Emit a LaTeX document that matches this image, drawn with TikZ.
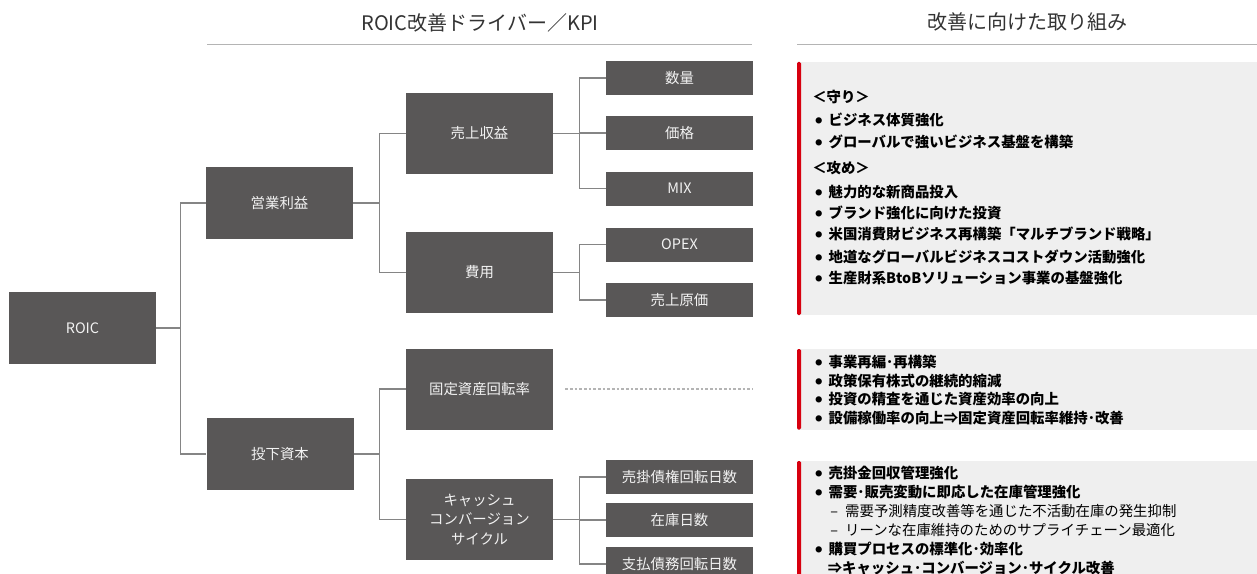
\documentclass[tikz,border=0pt]{standalone}
\usepackage{fontspec}
\newfontfamily\cjk{Noto Sans CJK JP}
\usetikzlibrary{calc}
\definecolor{boxgray}{HTML}{595757}
\definecolor{linegray}{HTML}{858585}
\definecolor{hdrline}{HTML}{B4B4B4}
\definecolor{panelbg}{HTML}{EFEFEF}
\definecolor{accent}{HTML}{D7000F}
\definecolor{boxtext}{HTML}{F2F2F2}
\definecolor{hdrtext}{HTML}{333333}
\newcommand\bul{\makebox[10pt][l]{\raisebox{1.6pt}{\fontsize{5.2}{5.2}\selectfont ●}}}
\begin{document}
\begin{tikzpicture}[x=0.75pt,y=-0.75pt,
  kpibox/.style={fill=boxgray, text=boxtext, font=\cjk\fontsize{10.8}{14.6}\selectfont,
    minimum width=110.25pt, inner sep=0pt, align=center},
  lvone/.style={kpibox, minimum height=54pt},
  lvtwo/.style={kpibox, minimum height=60.75pt},
  lvthree/.style={kpibox, minimum height=25.5pt},
  conn/.style={draw=linegray, line width=1pt},
  hdr/.style={font=\cjk\fontsize{15}{18}\selectfont, text=hdrtext, inner sep=0pt},
  hline/.style={draw=hdrline, line width=1.2pt},
  item/.style={anchor=west, inner sep=0pt, font=\cjk\bfseries\fontsize{10.8}{13}\selectfont,
    text height=9.5pt, text depth=1.3pt, text=black},
  subitem/.style={anchor=west, inner sep=0pt, font=\cjk\fontsize{10.8}{13}\selectfont,
    text height=9.5pt, text depth=1.3pt, text=black},
  panel/.style={fill=panelbg, draw=none},
  redbar/.style={fill=accent, draw=none, rounded corners=1pt},
  dotline/.style={draw=hdrline, line width=0.8pt, dash pattern=on 2pt off 1.5pt},
]
\useasboundingbox (0,0) rectangle (1257,574);
\clip (0,0) rectangle (1257,574);

% headers
\node[hdr] (h1) at (480,23) {ROIC改善ドライバー／KPI};
\node[hdr] (h2) at (1027,22) {改善に向けた取り組み};
\draw[hline] (207,44.5) -- (752,44.5);
\draw[hline] (797,44.5) -- (1257,44.5);

% KPI tree
\node[lvone] (roic) at (82.5,328) {ROIC};
\node[lvone] (op) at (279.5,203) {営業利益};
\node[lvone] (ic) at (280,454) {投下資本};
\node[lvtwo] (rev) at (479.5,133.2) {売上収益};
\node[lvtwo] (cost) at (479.5,272.2) {費用};
\node[lvtwo] (fa) at (479.5,389) {固定資産回転率};
\node[lvtwo] (ccc) at (479.5,519.3) {キャッシュ\\コンバージョン\\サイクル};
\node[lvthree] (qty) at (679.5,78) {数量};
\node[lvthree] (price) at (679.5,133) {価格};
\node[lvthree] (mix) at (679.5,188.7) {MIX};
\node[lvthree] (opex) at (679.5,244.7) {OPEX};
\node[lvthree] (cogs) at (679.5,300) {売上原価};
\node[lvthree] (ar) at (679.5,477) {売掛債権回転日数};
\node[lvthree] (inv) at (679.5,520) {在庫日数};
\node[lvthree] (ap) at (679.5,564) {支払債務回転日数};

% connectors
\coordinate (j1) at ($(roic.east)+(24,0)$);
\draw[conn] (roic.east) -- (j1) |- (op.west);
\draw[conn] (j1) |- (ic.west);
\coordinate (j2) at ($(op.east)+(26,0)$);
\draw[conn] (op.east) -- (j2) |- (rev.west);
\draw[conn] (j2) |- (cost.west);
\coordinate (j3) at ($(ic.east)+(26,0)$);
\draw[conn] (ic.east) -- (j3) |- (fa.west);
\draw[conn] (j3) |- (ccc.west);
\coordinate (j4) at ($(rev.east)+(26.5,0)$);
\draw[conn] (rev.east) -- (j4) |- (qty.west);
\draw[conn] (j4) |- (price.west);
\draw[conn] (j4) |- (mix.west);
\coordinate (j5) at ($(cost.east)+(26.5,0)$);
\draw[conn] (cost.east) -- (j5) |- (opex.west);
\draw[conn] (j5) |- (cogs.west);
\coordinate (j6) at ($(ccc.east)+(26.5,0)$);
\draw[conn] (ccc.east) -- (j6) |- (ar.west);
\draw[conn] (j6) |- (inv.west);
\draw[conn] (j6) |- (ap.west);
\coordinate (faend) at (753,389);
\draw[dotline] ($(fa.east)+(12,0)$) -- (faend);

% panels
\fill[panel] (797,62) rectangle (1257,315);
\fill[redbar] (797,62) rectangle (801,315);
\fill[panel] (797,349) rectangle (1257,429.5);
\fill[redbar] (797,349) rectangle (801,429.5);
\fill[panel] (797,461) rectangle (1257,580);
\fill[redbar] (797,461) rectangle (801,580);

% panel 1
\node[item] (p1a) at (812,97.3) {＜守り＞};
\node[item] (p1b) at (815,120) {\bul ビジネス体質強化};
\node[item] (p1c) at (815,141.7) {\bul グローバルで強いビジネス基盤を構築};
\node[item] (p1d) at (812,168) {＜攻め＞};
\node[item] (p1e) at (815,191.7) {\bul 魅力的な新商品投入};
\node[item] (p1f) at (815,213) {\bul ブランド強化に向けた投資};
\node[item] (p1g) at (815,234.5) {\bul 米国消費財ビジネス再構築「マルチブランド戦略」};
\node[item] (p1h) at (815,256.7) {\bul 地道なグローバルビジネスコストダウン活動強化};
\node[item] (p1i) at (815,278) {\bul 生産財系BtoBソリューション事業の基盤強化};

% panel 2
\node[item] (p2a) at (815,361.7) {\bul 事業再編･再構築};
\node[item] (p2b) at (815,381) {\bul 政策保有株式の継続的縮減};
\node[item] (p2c) at (815,399.5) {\bul 投資の精査を通じた資産効率の向上};
\node[item] (p2d) at (815,418.3) {\bul 設備稼働率の向上⇒固定資産回転率維持･改善};

% panel 3
\node[item] (p3a) at (815,472.7) {\bul 売掛金回収管理強化};
\node[item] (p3b) at (815,492.2) {\bul 需要･販売変動に即応した在庫管理強化};
\node[subitem] (p3c) at (830,511) {\makebox[11.2pt][l]{–}需要予測精度改善等を通じた不活動在庫の発生抑制};
\node[subitem] (p3d) at (830,530) {\makebox[11.2pt][l]{–}リーンな在庫維持のためのサプライチェーン最適化};
\node[item] (p3e) at (815,549.3) {\bul 購買プロセスの標準化･効率化};
\node[item] (p3f) at (827.5,568.3) {⇒キャッシュ･コンバージョン･サイクル改善};
\end{tikzpicture}
\end{document}
